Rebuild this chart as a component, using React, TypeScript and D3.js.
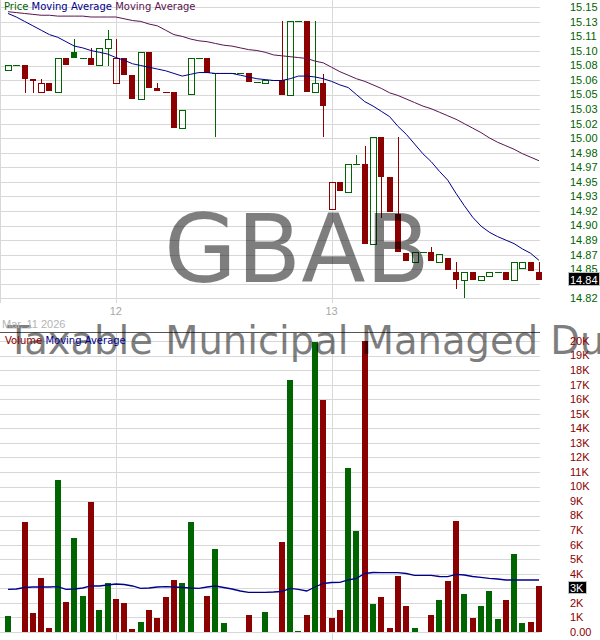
import React from 'react';
import * as d3 from 'd3';

const symbol = 'GBAB';
const fundName = 'Taxable Municipal Managed Duration Trust';
const dateLabel = 'Mar. 11 2026';

// intraday bars, one per slot (0..64)
const opens = [
  15.079, 15.085, 15.085, 15.069, 15.054, 15.064, 15.054, 15.093, 15.099, 15.093,
  15.093, 15.085, 15.104, 15.064, 15.093, 15.073, 15.046, 15.099, 15.059, 15.054,
  15.054, 15.013, 15.052, 15.093, 15.093, 15.075, 15.075, 15.075, 15.075, 15.075,
  15.065, 15.064, 15.068, 15.068, 15.050, 15.134, 15.134, 15.054, 15.064, 14.921,
  14.952, 14.941, 14.972, 14.972, 14.882, 15.003, 14.957, 14.916, 14.871, 14.861,
  14.872, 14.872, 14.861, 14.866, 14.850, 14.841, 14.850, 14.841, 14.845, 14.850,
  14.850, 14.841, 14.854, 14.861, 14.850,
];
const highs = [
  15.085, 15.085, 15.085, 15.069, 15.069, 15.064, 15.093, 15.093, 15.114, 15.093,
  15.104, 15.104, 15.124, 15.114, 15.093, 15.073, 15.099, 15.099, 15.064, 15.054,
  15.054, 15.033, 15.093, 15.093, 15.093, 15.075, 15.075, 15.075, 15.075, 15.075,
  15.065, 15.068, 15.068, 15.134, 15.134, 15.134, 15.134, 15.134, 15.074, 14.952,
  14.952, 14.972, 14.983, 14.993, 15.003, 15.003, 14.957, 15.003, 14.871, 14.872,
  14.872, 14.878, 14.870, 14.866, 14.861, 14.850, 14.850, 14.845, 14.850, 14.850,
  14.850, 14.861, 14.861, 14.861, 14.861,
];
const lows = [
  15.079, 15.085, 15.053, 15.053, 15.054, 15.055, 15.054, 15.085, 15.092, 15.093,
  15.085, 15.085, 15.083, 15.064, 15.073, 15.046, 15.046, 15.059, 15.055, 15.054,
  15.013, 15.013, 15.052, 15.093, 15.075, 15.003, 15.075, 15.075, 15.075, 15.065,
  15.065, 15.064, 15.068, 15.051, 15.050, 15.134, 15.054, 15.054, 15.003, 14.921,
  14.942, 14.941, 14.972, 14.882, 14.882, 14.911, 14.918, 14.872, 14.862, 14.861,
  14.872, 14.862, 14.861, 14.852, 14.830, 14.820, 14.841, 14.841, 14.845, 14.850,
  14.841, 14.841, 14.854, 14.851, 14.841,
];
const closes = [
  15.085, 15.085, 15.069, 15.066, 15.064, 15.055, 15.093, 15.085, 15.093, 15.093,
  15.085, 15.104, 15.114, 15.093, 15.073, 15.046, 15.099, 15.059, 15.055, 15.054,
  15.013, 15.033, 15.093, 15.093, 15.075, 15.075, 15.075, 15.075, 15.075, 15.065,
  15.065, 15.068, 15.068, 15.051, 15.134, 15.134, 15.054, 15.064, 15.038, 14.952,
  14.942, 14.972, 14.972, 14.882, 15.003, 14.958, 14.918, 14.872, 14.862, 14.872,
  14.872, 14.862, 14.870, 14.852, 14.841, 14.850, 14.841, 14.845, 14.850, 14.850,
  14.841, 14.861, 14.861, 14.851, 14.841,
];
const volumes = [
  1100, 0, 7560, 1300, 3710, 280, 10450, 2060, 6460, 2470,
  8930, 1510, 3370, 2270, 1990, 210, 690, 1510, 960, 2400,
  3570, 3370, 7560, 0, 2470, 5700, 620, 0, 0, 1170,
  0, 1370, 0, 6190, 17300, 80, 1170, 19900, 15950, 990,
  1510, 11300, 6940, 20000, 1920, 2400, 300, 3850, 1790, 300,
  0, 1170, 2200, 3530, 7630, 2610, 990, 1790, 2820, 920,
  2200, 5360, 620, 690, 3160,
];
// short price moving average (navy)
const priceMAShort = [
  15.143, 15.139, 15.134, 15.129, 15.124, 15.119, 15.116, 15.111, 15.106, 15.104,
  15.101, 15.099, 15.097, 15.093, 15.090, 15.086, 15.084, 15.082, 15.080, 15.078,
  15.075, 15.072, 15.074, 15.076, 15.076, 15.075, 15.075, 15.075, 15.073, 15.071,
  15.069, 15.068, 15.067, 15.067, 15.069, 15.072, 15.072, 15.071, 15.069, 15.066,
  15.062, 15.059, 15.051, 15.043, 15.038, 15.032, 15.026, 15.015, 15.006, 14.995,
  14.984, 14.975, 14.964, 14.954, 14.939, 14.925, 14.912, 14.902, 14.895, 14.890,
  14.886, 14.882, 14.876, 14.871, 14.863,
];
// long price moving average (purple)
const priceMALong = [
  15.145, 15.144, 15.143, 15.142, 15.141, 15.141, 15.140, 15.140, 15.140, 15.140,
  15.139, 15.139, 15.139, 15.139, 15.137, 15.135, 15.134, 15.131, 15.129, 15.124,
  15.119, 15.117, 15.114, 15.112, 15.111, 15.109, 15.107, 15.106, 15.104, 15.102,
  15.101, 15.099, 15.096, 15.095, 15.094, 15.093, 15.092, 15.089, 15.087, 15.082,
  15.077, 15.073, 15.069, 15.066, 15.062, 15.058, 15.053, 15.050, 15.046, 15.042,
  15.038, 15.035, 15.031, 15.027, 15.023, 15.018, 15.013, 15.008, 15.002, 14.997,
  14.993, 14.989, 14.984, 14.980, 14.976,
];
const volumeMA = [
  2935, 2955, 3058, 3093, 3093, 3093, 3113, 2935, 2955, 3024,
  3162, 3162, 3230, 3299, 3265, 3162, 3003, 3024, 3093, 3113,
  3093, 3058, 3024, 3003, 3093, 3162, 3058, 2955, 2818, 2729,
  2729, 2729, 2749, 2784, 3003, 2935, 2818, 3093, 3333, 3402,
  3416, 3574, 3691, 4021, 4089, 4076, 4076, 4076, 4021, 3897,
  3897, 3897, 3814, 3801, 3966, 3918, 3814, 3760, 3691, 3643,
  3574, 3574, 3574, 3574, 3574,
];

const priceTickLabels = [
  '14.82', '14.84', '14.85', '14.87', '14.89', '14.90', '14.92', '14.93', '14.95', '14.97',
  '14.98', '15.00', '15.02', '15.03', '15.05', '15.06', '15.08', '15.10', '15.11', '15.13', '15.15',
];
const volumeTickLabels = [
  '0.00', '1K', '2K', '3K', '4K', '5K', '6K', '7K', '8K', '9K', '10K',
  '11K', '12K', '13K', '14K', '15K', '16K', '17K', '18K', '19K', '20K',
];
const hourTickSlots = [13, 39];
const hourTickLabels = ['12', '13'];
const lastPriceLabel = '14.84';
const lastVolumeLabel = '3K';

const UP = '#006400';
const DOWN = '#8b0000';
const GRID = '#d8d8d8';
const axisFont = '"Liberation Sans", Arial, sans-serif';
const legendFont = '"DejaVu Sans", Verdana, sans-serif';

export default function App() {
  const plotRight = 540;
  const priceBottom = 298.3;
  const volTop = 332;
  const volBottom = 632;

  const x = d3.scaleLinear().domain([0, opens.length - 1]).range([8, 539]);
  const yP = d3.scaleLinear().domain([14.82, 15.15]).range([priceBottom, 7.3]);
  const yV = d3.scaleLinear().domain([0, 20000]).range([volBottom, 341]);

  const priceTicks = priceTickLabels.map((_, i) => 14.82 + (i * 0.33) / (priceTickLabels.length - 1));
  const volumeTicks = volumeTickLabels.map((_, i) => i * 1000);

  const colorOf = (i: number) => (i === 0 || closes[i] >= closes[i - 1] ? UP : DOWN);
  const crisp = (v: number) => Math.round(v) + 0.5;

  const maLine = (vals: number[], y: d3.ScaleLinear<number, number>) =>
    d3.line<number>().x((_, i) => x(i)).y(d => y(d))(vals) || '';

  const lastClose = closes[closes.length - 1];
  const lastVolMA = 3000;

  return (
    <svg width={600} height={640} style={{ position: 'absolute', left: 0, top: 0, background: '#fff' }}>
      <rect width={600} height={640} fill="#fff" />

      {/* price grid */}
      {priceTicks.map((t, i) => (
        <line key={'pg' + i} x1={0} x2={plotRight} y1={crisp(yP(t))} y2={crisp(yP(t))} stroke={GRID} />
      ))}
      {/* volume grid */}
      {volumeTicks.map((t, i) => (
        <line key={'vg' + i} x1={0} x2={plotRight} y1={crisp(yV(t))} y2={crisp(yV(t))} stroke={GRID} />
      ))}
      {hourTickSlots.map((s, i) => (
        <g key={'vl' + i}>
          <line x1={crisp(x(s))} x2={crisp(x(s))} y1={0} y2={303} stroke={GRID} />
          <line x1={crisp(x(s))} x2={crisp(x(s))} y1={volTop} y2={640} stroke={GRID} />
        </g>
      ))}
      <line x1={0.5} x2={0.5} y1={0} y2={303} stroke={GRID} />
      <line x1={0} x2={plotRight} y1={volTop + 0.5} y2={volTop + 0.5} stroke="#555" />

      {/* candles */}
      {opens.map((o, i) => {
        const c = closes[i];
        const col = colorOf(i);
        const left = Math.round(x(i)) - 3;
        const wx = left + 3.5;
        const yTop = Math.round(yP(Math.max(o, c)));
        const yBot = Math.round(yP(Math.min(o, c)));
        const yHi = Math.round(yP(highs[i]));
        const yLo = Math.round(yP(lows[i]));
        return (
          <g key={'c' + i}>
            {yHi < yTop && <line x1={wx} x2={wx} y1={yHi} y2={yTop} stroke={col} />}
            {yLo > yBot && <line x1={wx} x2={wx} y1={yBot} y2={yLo} stroke={col} />}
            {c === o ? (
              <line x1={left} x2={left + 7} y1={yTop + 0.5} y2={yTop + 0.5} stroke={col} />
            ) : c > o ? (
              <rect x={left + 0.5} y={yTop + 0.5} width={6} height={Math.max(1, yBot - yTop)} fill="none" stroke={col} />
            ) : (
              <rect x={left} y={yTop} width={6} height={Math.max(1, yBot - yTop)} fill={col} />
            )}
          </g>
        );
      })}

      <path d={maLine(priceMALong, yP)} fill="none" stroke="#5a1450" strokeWidth={1} />
      <path d={maLine(priceMAShort, yP)} fill="none" stroke="#00008b" strokeWidth={1} />

      {/* volume bars */}
      {volumes.map((v, i) =>
        v > 0 ? (
          <rect
            key={'v' + i}
            x={Math.round(x(i)) - 3}
            y={Math.round(yV(v))}
            width={6}
            height={volBottom - Math.round(yV(v))}
            fill={colorOf(i)}
          />
        ) : null
      )}
      <path d={maLine(volumeMA, yV)} fill="none" stroke="#00008b" strokeWidth={1.3} />

      {/* watermarks */}
      <text x={297} y={282} textAnchor="middle" fontFamily={legendFont} fontSize={94} fill="#000" opacity={0.5}>
        {symbol}
      </text>
      <text x={7} y={354} fontFamily={legendFont} fontSize={38.5} fill="#000" opacity={0.5}>
        {fundName}
      </text>

      {/* legends */}
      <text x={4} y={10} fontFamily={legendFont} fontSize={10}>
        <tspan fill={UP}>Price</tspan>
        <tspan fill="#00008b"> Moving Average</tspan>
        <tspan fill="#5a1450"> Moving Average</tspan>
      </text>
      <text x={5} y={344} fontFamily={legendFont} fontSize={10}>
        <tspan fill={DOWN}>Volume</tspan>
        <tspan fill="#00008b"> Moving Average</tspan>
      </text>

      {/* right axes: the label under the highlighted box is left out */}
      {priceTicks.map((t, i) =>
        priceTickLabels[i] === lastPriceLabel ? null : (
          <text key={'pt' + i} x={570} y={yP(t)} dy="0.35em" fontFamily={axisFont} fontSize={11} fill={UP}>
            {priceTickLabels[i]}
          </text>
        )
      )}
      <rect x={568.5} y={Math.round(yP(lastClose)) - 7.5} width={31} height={13} fill="#000" stroke="#c0c0c0" />
      <text x={570} y={yP(lastClose)} dy="0.35em" fontFamily={axisFont} fontSize={11} fill="#fff">
        {lastPriceLabel}
      </text>

      {volumeTicks.map((t, i) =>
        volumeTickLabels[i] === lastVolumeLabel ? null : (
          <text key={'vt' + i} x={570} y={yV(t)} dy="0.35em" fontFamily={axisFont} fontSize={11} fill={DOWN}>
            {volumeTickLabels[i]}
          </text>
        )
      )}
      <rect x={568.5} y={Math.round(yV(lastVolMA)) - 6.5} width={18} height={12} fill="#000" stroke="#c0c0c0" />
      <text x={570} y={yV(lastVolMA)} dy="0.35em" fontFamily={axisFont} fontSize={11} fill="#fff">
        {lastVolumeLabel}
      </text>

      {/* time axis */}
      {hourTickSlots.map((s, i) => (
        <text key={'ht' + i} x={x(s)} y={311} dy="0.35em" textAnchor="middle" fontFamily={axisFont} fontSize={11} fill="#a8a8a8">
          {hourTickLabels[i]}
        </text>
      ))}
      <text x={2} y={324} dy="0.35em" fontFamily={axisFont} fontSize={11} fill="#b4b4b4">
        {dateLabel}
      </text>
    </svg>
  );
}
